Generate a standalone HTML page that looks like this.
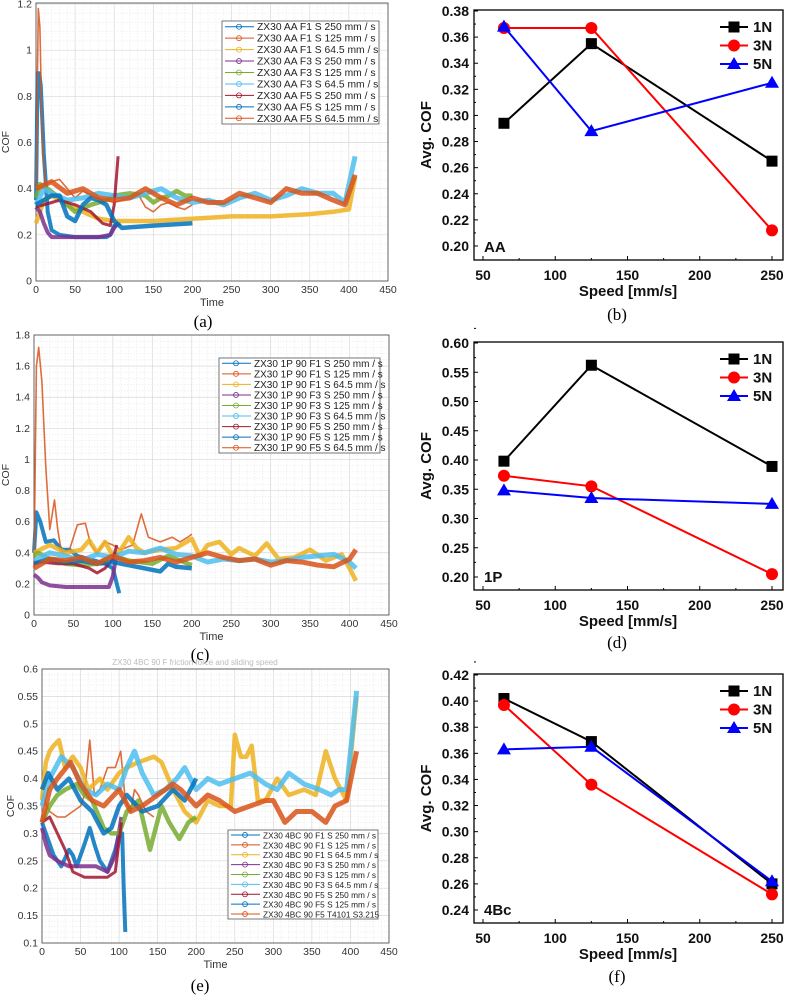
<!DOCTYPE html>
<html><head><meta charset="utf-8">
<style>
html,body{margin:0;padding:0;background:#fff;}
svg{display:block;}
</style></head>
<body>
<svg id="fig" width="789" height="998" viewBox="0 0 789 998" xmlns="http://www.w3.org/2000/svg">
</svg>
<script>
// ---------- Right-panel data ----------
const speeds = [64.5, 125, 250];
const speedTicks = [50, 100, 150, 200, 250];
const seriesNames = ['1N', '3N', '5N'];
const bAvg1N = [0.294, 0.355, 0.265];
const bAvg3N = [0.367, 0.367, 0.212];
const bAvg5N = [0.368, 0.288, 0.325];
const dAvg1N = [0.398, 0.562, 0.389];
const dAvg3N = [0.373, 0.355, 0.205];
const dAvg5N = [0.348, 0.335, 0.325];
const fAvg1N = [0.402, 0.369, 0.260];
const fAvg3N = [0.397, 0.336, 0.252];
const fAvg5N = [0.363, 0.365, 0.262];
const bTicks = [0.20,0.22,0.24,0.26,0.28,0.30,0.32,0.34,0.36,0.38];
const dTicks = [0.20,0.25,0.30,0.35,0.40,0.45,0.50,0.55,0.60];
const fTicks = [0.24,0.26,0.28,0.30,0.32,0.34,0.36,0.38,0.40,0.42];

// ---------- Left-panel data (time traces) ----------
const timeTicks = [0,50,100,150,200,250,300,350,400,450];
const aTicks = [0,0.2,0.4,0.6,0.8,1,1.2];
const cTicks = [0,0.2,0.4,0.6,0.8,1,1.2,1.4,1.6,1.8];
const eTicks = [0.1,0.15,0.2,0.25,0.3,0.35,0.4,0.45,0.5,0.55,0.6];
const aLegend = ['ZX30 AA F1 S 250 mm / s','ZX30 AA F1 S 125 mm / s','ZX30 AA F1 S 64.5 mm / s','ZX30 AA F3 S 250 mm / s','ZX30 AA F3 S 125 mm / s','ZX30 AA F3 S 64.5 mm / s','ZX30 AA F5 S 250 mm / s','ZX30 AA F5 S 125 mm / s','ZX30 AA F5 S 64.5 mm / s'];
const cLegend = ['ZX30 1P 90 F1 S 250 mm / s','ZX30 1P 90 F1 S 125 mm / s','ZX30 1P 90 F1 S 64.5 mm / s','ZX30 1P 90 F3 S 250 mm / s','ZX30 1P 90 F3 S 125 mm / s','ZX30 1P 90 F3 S 64.5 mm / s','ZX30 1P 90 F5 S 250 mm / s','ZX30 1P 90 F5 S 125 mm / s','ZX30 1P 90 F5 S 64.5 mm / s'];
const eLegend = ['ZX30 4BC 90 F1 S 250 mm / s','ZX30 4BC 90 F1 S 125 mm / s','ZX30 4BC 90 F1 S 64.5 mm / s','ZX30 4BC 90 F3 S 250 mm / s','ZX30 4BC 90 F3 S 125 mm / s','ZX30 4BC 90 F3 S 64.5 mm / s','ZX30 4BC 90 F5 S 250 mm / s','ZX30 4BC 90 F5 S 125 mm / s','ZX30 4BC 90 F5 T4101 S3.215'];

const aT1=[0,2,4,6,8,10,12,15,20,30,50,70,90,95,100,108];
const aV1=[0.35,0.9,0.9,0.85,0.7,0.55,0.45,0.3,0.22,0.2,0.19,0.19,0.19,0.2,0.24,0.25];
const aT2=[0,3,5,8,12,20,30,40,50,60,70,80,90,100,110,120,130,140,150,160,170,180,190,200];
const aV2=[0.4,1.18,1.1,0.6,0.42,0.43,0.44,0.4,0.36,0.39,0.37,0.36,0.35,0.34,0.35,0.36,0.38,0.32,0.3,0.33,0.34,0.32,0.31,0.33];
const aT3=[0,5,10,20,40,60,80,100,110,150,200,250,300,350,380,400,408];
const aV3=[0.25,0.3,0.35,0.37,0.33,0.3,0.27,0.26,0.26,0.26,0.27,0.28,0.28,0.29,0.3,0.31,0.45];
const aT4=[0,5,10,15,20,40,60,80,95,100,105];
const aV4=[0.32,0.3,0.25,0.21,0.19,0.19,0.19,0.19,0.2,0.23,0.25];
const aT5=[0,5,15,30,50,70,90,100,120,140,150,160,170,180,190,200];
const aV5=[0.36,0.42,0.4,0.36,0.3,0.33,0.35,0.37,0.38,0.37,0.34,0.36,0.37,0.39,0.37,0.37];
const aT6=[0,10,20,40,60,80,100,120,140,160,180,200,220,240,260,280,300,320,340,360,380,395,408];
const aV6=[0.33,0.4,0.38,0.35,0.36,0.38,0.37,0.36,0.38,0.4,0.36,0.34,0.35,0.33,0.36,0.38,0.35,0.37,0.4,0.38,0.38,0.34,0.54];
const aT7=[0,10,20,30,50,70,85,95,100,105];
const aV7=[0.32,0.33,0.34,0.35,0.33,0.3,0.25,0.24,0.33,0.54];
const aT8=[0,10,20,30,40,50,60,70,80,90,100,110,150,200];
const aV8=[0.33,0.35,0.37,0.37,0.28,0.26,0.33,0.36,0.35,0.33,0.26,0.23,0.24,0.25];
const aT9=[0,20,40,60,80,100,120,140,160,180,200,220,240,260,280,300,320,340,360,380,395,408];
const aV9=[0.4,0.43,0.38,0.4,0.36,0.35,0.36,0.4,0.36,0.33,0.36,0.34,0.34,0.38,0.36,0.34,0.4,0.38,0.38,0.35,0.33,0.46];

const cT1=[0,3,8,15,25,35,45,55,70,90,100,105,108];
const cV1=[0.4,0.66,0.6,0.47,0.48,0.42,0.42,0.38,0.36,0.33,0.3,0.2,0.14];
const cT2=[0,3,6,10,15,20,26,30,35,45,55,65,72,80,90,100,110,125,136,145,160,175,185,195,200];
const cV2=[0.3,1.6,1.72,1.5,0.95,0.55,0.74,0.55,0.4,0.42,0.58,0.59,0.45,0.4,0.47,0.45,0.42,0.45,0.65,0.5,0.47,0.5,0.47,0.5,0.52];
const cT3=[0,20,40,60,70,80,90,100,110,120,130,140,160,180,200,210,220,235,250,260,280,295,310,330,350,370,390,400,408];
const cV3=[0.4,0.45,0.4,0.42,0.48,0.4,0.47,0.38,0.42,0.5,0.43,0.4,0.42,0.43,0.49,0.38,0.45,0.47,0.39,0.43,0.38,0.46,0.36,0.37,0.42,0.35,0.39,0.3,0.22];
const cT4=[0,5,10,20,40,60,80,95,100,105];
const cV4=[0.26,0.24,0.21,0.19,0.18,0.18,0.18,0.18,0.25,0.4];
const cT5=[0,5,20,40,60,80,100,120,150,170,200];
const cV5=[0.38,0.4,0.36,0.33,0.32,0.33,0.38,0.35,0.33,0.38,0.32];
const cT6=[0,20,40,60,80,100,120,140,160,180,200,220,240,260,280,300,320,340,360,380,400,408];
const cV6=[0.35,0.4,0.38,0.35,0.39,0.37,0.41,0.4,0.43,0.39,0.38,0.34,0.36,0.35,0.36,0.34,0.35,0.37,0.38,0.39,0.34,0.3];
const cT7=[0,10,30,50,70,80,90,100,105];
const cV7=[0.33,0.34,0.33,0.33,0.3,0.27,0.3,0.36,0.45];
const cT8=[0,20,40,60,80,100,120,140,160,170,180,200];
const cV8=[0.33,0.36,0.34,0.35,0.33,0.34,0.32,0.3,0.28,0.33,0.31,0.3];
const cT9=[0,20,40,60,80,100,120,140,160,180,200,220,240,260,280,300,320,340,360,380,400,408];
const cV9=[0.3,0.36,0.35,0.37,0.33,0.38,0.34,0.35,0.37,0.34,0.37,0.4,0.37,0.35,0.36,0.32,0.35,0.34,0.32,0.31,0.36,0.42];

const eT1=[0,5,15,25,35,40,45,55,62,68,75,85,95,100,104,106,108];
const eV1=[0.32,0.3,0.26,0.24,0.27,0.26,0.24,0.28,0.31,0.28,0.25,0.23,0.27,0.3,0.3,0.2,0.12];
const eT2=[0,10,20,30,40,50,55,62,68,75,85,95,102,108,115,120,125,135,145];
const eV2=[0.37,0.34,0.33,0.33,0.34,0.35,0.37,0.47,0.37,0.38,0.42,0.42,0.45,0.36,0.34,0.38,0.37,0.34,0.33];
const eT3=[0,5,10,15,22,30,40,50,60,75,85,100,110,125,145,155,170,185,200,215,230,245,250,258,265,272,280,290,305,320,340,355,368,380,395,408];
const eV3=[0.36,0.43,0.45,0.46,0.47,0.42,0.44,0.42,0.38,0.4,0.38,0.41,0.42,0.43,0.44,0.43,0.38,0.34,0.32,0.36,0.35,0.35,0.48,0.44,0.44,0.46,0.36,0.36,0.4,0.37,0.38,0.37,0.45,0.4,0.36,0.55];
const eT4=[0,5,10,20,35,50,70,85,95,103];
const eV4=[0.31,0.28,0.26,0.25,0.24,0.24,0.24,0.23,0.26,0.33];
const eT5=[0,10,20,30,45,55,65,80,90,100,110,125,140,155,165,178,190,200];
const eV5=[0.32,0.35,0.37,0.38,0.39,0.37,0.36,0.31,0.3,0.3,0.34,0.36,0.27,0.35,0.32,0.29,0.32,0.33];
const eT6=[0,10,25,40,55,70,85,100,110,120,130,145,160,175,185,200,215,230,250,270,290,305,320,340,360,375,385,395,408];
const eV6=[0.35,0.4,0.44,0.42,0.38,0.37,0.39,0.38,0.42,0.45,0.41,0.37,0.38,0.4,0.42,0.38,0.4,0.39,0.4,0.41,0.39,0.38,0.41,0.39,0.38,0.37,0.38,0.38,0.56];
const eT7=[0,10,20,30,40,55,70,85,95,103];
const eV7=[0.32,0.33,0.3,0.27,0.23,0.22,0.22,0.22,0.23,0.32];
const eT8=[0,8,20,35,50,65,80,90,100,110,130,150,170,185,200];
const eV8=[0.38,0.41,0.38,0.4,0.36,0.34,0.3,0.31,0.35,0.37,0.34,0.35,0.38,0.36,0.4];
const eT9=[0,10,20,37,50,65,80,100,115,130,150,170,180,200,215,230,250,270,290,300,315,330,350,368,380,395,408];
const eV9=[0.32,0.38,0.4,0.43,0.39,0.36,0.35,0.38,0.34,0.35,0.37,0.39,0.38,0.35,0.37,0.36,0.34,0.35,0.36,0.36,0.32,0.34,0.34,0.32,0.35,0.36,0.45];

const NS='http://www.w3.org/2000/svg';
const svg=document.getElementById('fig');
function mk(tag, attrs, parent){
  const e=document.createElementNS(NS,tag);
  for(const k in attrs) e.setAttribute(k, attrs[k]);
  (parent||svg).appendChild(e);
  return e;
}
function txt(s, attrs, parent){
  const e=mk('text', attrs, parent);
  e.textContent=s;
  return e;
}
const mcolors=['#0072BD','#D95319','#EDB120','#7E2F8E','#77AC30','#4DBEEE','#A2142F','#0072BD','#D95319'];
const mwidth=[4,1.6,4.5,4,4.5,5,3,4.5,5];

function timeChart(cfg){
  const g=mk('g',{});
  
  
  const X=t=>cfg.x0+(t-0)/450*(cfg.x1-cfg.x0);
  const Y=v=>cfg.yb+(v-cfg.vmin)/(cfg.vmax-cfg.vmin)*(cfg.yt-cfg.yb);
  for(let t=0;t<=450;t+=10){ mk('line',{x1:X(t),x2:X(t),y1:cfg.boxTop,y2:cfg.yb,stroke:t%50==0?'#d8d8d8':'#ececec','stroke-width':0.7,'stroke-dasharray':t%50==0?'':'1.5,1.5'},g); }
  const ty=cfg.ticks, step=(ty[1]-ty[0])/5;
  for(let v=cfg.vmin; v<=cfg.vmax+1e-9; v+=step){
    const isMaj=ty.some(q=>Math.abs(q-v)<1e-6);
    mk('line',{x1:cfg.x0,x2:cfg.x1,y1:Y(v),y2:Y(v),stroke:isMaj?'#d8d8d8':'#ececec','stroke-width':0.7,'stroke-dasharray':isMaj?'':'1.5,1.5'},g);
  }
  mk('rect',{x:cfg.x0,y:cfg.boxTop,width:cfg.x1-cfg.x0,height:cfg.yb-cfg.boxTop,fill:'none',stroke:'#444','stroke-width':0.8},g);
  timeTicks.forEach(t=>{
    const l=txt(String(t),{x:X(t),y:cfg.yb+12,'font-size':10.5,'text-anchor':'middle',fill:'#333','font-family':'Liberation Sans, sans-serif'},g);
    
    
  });
  ty.forEach(v=>{
    const l=txt(String(v),{x:cfg.x0-4,y:Y(v)+3.5,'font-size':10.5,'text-anchor':'end',fill:'#333','font-family':'Liberation Sans, sans-serif'},g);
    
    
  });
  const xt=txt('Time',{x:(cfg.x0+cfg.x1)/2,y:cfg.yb+25,'font-size':11,'text-anchor':'middle',fill:'#333','font-family':'Liberation Sans, sans-serif'},g);
  
  
  const yt=txt('COF',{x:0,y:0,'font-size':10.5,'text-anchor':'middle',fill:'#333','font-family':'Liberation Sans, sans-serif',transform:`translate(${cfg.ylabX},${(cfg.boxTop+cfg.yb)/2}) rotate(-90)`},g);
  
  
  cfg.series.forEach((s,i)=>{
    const d=s[0].map((t,k)=>(k?'L':'M')+X(t).toFixed(1)+','+Y(s[1][k]).toFixed(1)).join(' ');
    const p=mk('path',{d:d,fill:'none',stroke:mcolors[i],'stroke-width':mwidth[i],'stroke-linejoin':'round','stroke-opacity':0.85},g);
    
    
  });
  const L=cfg.leg;
  const lb=mk('rect',{x:L.x,y:L.y,width:L.w,height:L.h,fill:'#fff',stroke:'#555','stroke-width':0.8},g);
  
  
  const rh=L.h/9;
  cfg.legend.forEach((s,i)=>{
    const yy=L.y+rh*(i+0.5);
    mk('line',{x1:L.x+3,x2:L.x+32,y1:yy,y2:yy,stroke:mcolors[i],'stroke-width':1},g);
    mk('circle',{cx:L.x+17,cy:yy,r:2.5,fill:'none',stroke:mcolors[i],'stroke-width':0.8},g);
    const t=txt(s,{x:L.x+35,y:yy+3.5,'font-size':L.fs,fill:'#222','font-family':'Liberation Sans, sans-serif'},g);
    
    
  });
  const cap=txt(cfg.caption,{x:cfg.capX,y:cfg.capY,'font-size':17,'text-anchor':'middle',fill:'#000','font-family':'Liberation Serif, serif'},g);
  
  
}

function avgChart(cfg){
  const g=mk('g',{});
  
  
  const X=s=>483+(s-50)/200*(772-483);
  const Y=v=>cfg.yb+(v-cfg.vmin)/(cfg.vmax-cfg.vmin)*(cfg.yt-cfg.yb);
  const bx0=474,bx1=783;
  mk('rect',{x:bx0,y:cfg.boxTop,width:bx1-bx0,height:cfg.boxBot-cfg.boxTop,fill:'none',stroke:'#000','stroke-width':1.3},g);
  speedTicks.forEach(s=>{
    mk('line',{x1:X(s),x2:X(s),y1:cfg.boxBot,y2:cfg.boxBot-4,stroke:'#000','stroke-width':1},g);
    mk('line',{x1:X(s+25),x2:X(s+25),y1:cfg.boxBot,y2:cfg.boxBot-2,stroke:'#000','stroke-width':1},g);
    const l=txt(String(s),{x:X(s),y:cfg.boxBot+20,'font-size':14,'font-weight':'bold','text-anchor':'middle',fill:'#111','font-family':'Liberation Sans, sans-serif'},g);
    
    
  });
  const tk=cfg.ticks, st=tk[1]-tk[0];
  tk.forEach(v=>{
    mk('line',{x1:bx0,x2:bx0+4,y1:Y(v),y2:Y(v),stroke:'#000','stroke-width':1},g);
    mk('line',{x1:bx0,x2:bx0+2,y1:Y(v+st/2),y2:Y(v+st/2),stroke:'#000','stroke-width':1},g);
    const l=txt(v.toFixed(2),{x:bx0-5,y:Y(v)+5,'font-size':14,'font-weight':'bold','text-anchor':'end',fill:'#111','font-family':'Liberation Sans, sans-serif'},g);
    
    
  });
  const xt=txt('Speed [mm/s]',{x:628,y:cfg.boxBot+36,'font-size':15,'font-weight':'bold','text-anchor':'middle',fill:'#111','font-family':'Liberation Sans, sans-serif'},g);
  
  
  const yt=txt('Avg. COF',{x:0,y:0,'font-size':15,'font-weight':'bold','text-anchor':'middle',fill:'#111','font-family':'Liberation Sans, sans-serif',transform:`translate(431,${(cfg.boxTop+cfg.boxBot)/2}) rotate(-90)`},g);
  
  
  const cols=['#000','#f00','#00f'];
  cfg.data.forEach((arr,i)=>{
    const d=speeds.map((s,k)=>(k?'L':'M')+X(s).toFixed(1)+','+Y(arr[k]).toFixed(1)).join(' ');
    const p=mk('path',{d:d,fill:'none',stroke:cols[i],'stroke-width':2},g);
    
    
    speeds.forEach((s,k)=>{
      const x=X(s),y=Y(arr[k]);
      let m;
      if(i==0) m=mk('rect',{x:x-5.5,y:y-5.5,width:11,height:11,fill:'#000'},g);
      else if(i==1) m=mk('circle',{cx:x,cy:y,r:6,fill:'#f00'},g);
      else m=mk('polygon',{points:`${x},${y-7} ${x-7},${y+5} ${x+7},${y+5}`,fill:'#00f'},g);
      
      
    });
  });
  seriesNames.forEach((n,i)=>{
    const yy=cfg.boxTop+17+i*18.5;
    mk('line',{x1:720,x2:748,y1:yy,y2:yy,stroke:cols[i],'stroke-width':2},g);
    if(i==0) mk('rect',{x:728.5,y:yy-5.5,width:11,height:11,fill:'#000'},g);
    else if(i==1) mk('circle',{cx:734,cy:yy,r:6,fill:'#f00'},g);
    else mk('polygon',{points:`734,${yy-7} 727,${yy+5} 741,${yy+5}`,fill:'#00f'},g);
    const t=txt(n,{x:753,y:yy+5,'font-size':15,'font-weight':'bold',fill:'#111','font-family':'Liberation Sans, sans-serif'},g);
    
    
  });
  const tag=txt(cfg.tag,{x:484,y:cfg.boxBot-8,'font-size':15,'font-weight':'bold',fill:'#111','font-family':'Liberation Sans, sans-serif'},g);
  
  
  const cap=txt(cfg.caption,{x:617,y:cfg.capY,'font-size':17,'text-anchor':'middle',fill:'#000','font-family':'Liberation Serif, serif'},g);
  
  
}

timeChart({name:'chart-a',x0:36,x1:388,boxTop:3,yb:281,yt:4,vmin:0,vmax:1.2,ticks:aTicks,ylabX:9,
  series:[[aT1,aV1],[aT2,aV2],[aT3,aV3],[aT4,aV4],[aT5,aV5],[aT6,aV6],[aT7,aV7],[aT8,aV8],[aT9,aV9]],
  legend:aLegend,leg:{x:222,y:21,w:157,h:103,fs:10.3},caption:'(a)',capX:203,capY:327});
timeChart({name:'chart-c',x0:34,x1:389,boxTop:335,yb:615,yt:335,vmin:0,vmax:1.8,ticks:cTicks,ylabX:9,
  series:[[cT1,cV1],[cT2,cV2],[cT3,cV3],[cT4,cV4],[cT5,cV5],[cT6,cV6],[cT7,cV7],[cT8,cV8],[cT9,cV9]],
  legend:cLegend,leg:{x:219,y:358,w:161,h:95,fs:10},caption:'(c)',capX:200,capY:660});
timeChart({name:'chart-e',x0:42,x1:389,boxTop:669,yb:943,yt:669,vmin:0.1,vmax:0.6,ticks:eTicks,ylabX:14,
  series:[[eT1,eV1],[eT2,eV2],[eT3,eV3],[eT4,eV4],[eT5,eV5],[eT6,eV6],[eT7,eV7],[eT8,eV8],[eT9,eV9]],
  legend:eLegend,leg:{x:228,y:830,w:150,h:89,fs:8.3},caption:'(e)',capX:200,capY:991});
const ttl=txt('ZX30 4BC 90 F friction force and sliding speed',{x:195,y:665,'font-size':8,'text-anchor':'middle',fill:'#bbb','font-family':'Liberation Sans, sans-serif'});



avgChart({name:'chart-b',boxTop:10,boxBot:260,yt:11,yb:246,vmax:0.38,vmin:0.20,ticks:bTicks,data:[bAvg1N,bAvg3N,bAvg5N],tag:'AA',caption:'(b)',capY:320});
avgChart({name:'chart-d',boxTop:342,boxBot:590,yt:343,yb:577,vmax:0.60,vmin:0.20,ticks:dTicks,data:[dAvg1N,dAvg3N,dAvg5N],tag:'1P',caption:'(d)',capY:648});
avgChart({name:'chart-f',boxTop:674,boxBot:923,yt:675,yb:910,vmax:0.42,vmin:0.24,ticks:fTicks,data:[fAvg1N,fAvg3N,fAvg5N],tag:'4Bc',caption:'(f)',capY:982});
</script>
</body></html>
